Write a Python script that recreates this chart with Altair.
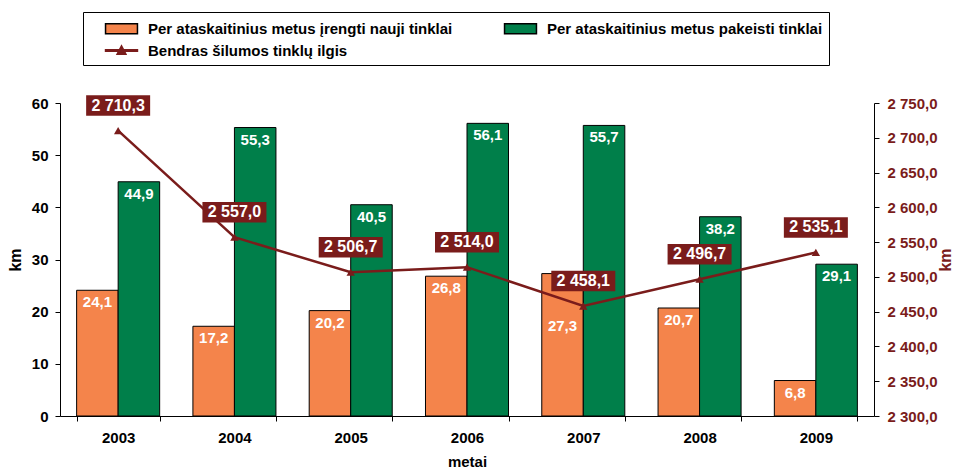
import altair as alt
import pandas as pd

years = ["2003", "2004", "2005", "2006", "2007", "2008", "2009"]
new_km = [24.1, 17.2, 20.2, 26.8, 27.3, 20.7, 6.8]
replaced_km = [44.9, 55.3, 40.5, 56.1, 55.7, 38.2, 29.1]
total_km = [2710.3, 2557.0, 2506.7, 2514.0, 2458.1, 2496.7, 2535.1]
series_names = [
    "Per ataskaitinius metus įrengti nauji tinklai",
    "Per ataskaitinius metus pakeisti tinklai",
    "Bendras šilumos tinklų ilgis",
]
left_ticks = [0, 10, 20, 30, 40, 50, 60]
right_ticks = [2300, 2350, 2400, 2450, 2500, 2550, 2600, 2650, 2700, 2750]
left_domain = [0, 60]
right_domain = [2300, 2750]

ORANGE = "#F4844B"
GREEN = "#007F4A"
DARKRED = "#7A1C1B"
FONT = "Liberation Sans Narrow, Arial Narrow, Liberation Sans, Arial, sans-serif"

bars_df = pd.DataFrame({
    "year": years * 2,
    "series": [series_names[0]] * len(years) + [series_names[1]] * len(years),
    "value": new_km + replaced_km,
    "total": total_km * 2,
})
# line value expressed in left-axis units; a bar label that the line crosses goes below the line
line_in_left = (bars_df["total"] - right_domain[0]) / (right_domain[1] - right_domain[0]) * left_domain[1]
crossed = (line_in_left <= bars_df["value"]) & (line_in_left >= bars_df["value"] - 7)
bars_df["label_pos"] = bars_df["value"].where(~crossed, line_in_left - 1.5)

line_df = pd.DataFrame({"year": years, "series": series_names[2], "total": total_km})

RECT_PATH = "M-1.68,-0.53H1.68V0.53H-1.68Z"
LINE_PATH = "M-1.68,-0.07H1.68V0.07H-1.68Z M-0.47,0.4L0,-0.5L0.47,0.4Z"
BOX_PATH = "M-1,-0.32H1V0.32H-1Z"

x_enc = alt.X(
    "year:N", sort=years,
    scale=alt.Scale(paddingInner=0.286, paddingOuter=0.143),
    axis=alt.Axis(
        title="metai", labelAngle=0, tickBand="extent", tickSize=5,
        labelFont=FONT, labelFontSize=15, labelFontWeight="bold", labelColor="black",
        labelPadding=9, titleFont=FONT, titleFontSize=15, titleFontWeight="bold",
        titlePadding=9, domainColor="black", tickColor="black", grid=False,
    ),
)

legend = alt.Legend(
    title=None, orient="none", legendX=23, legendY=-91, columns=2,
    direction="horizontal", columnPadding=35, rowPadding=3, padding=6,
    strokeColor="black", fillColor="white", labelFont=FONT, labelFontSize=15,
    labelFontWeight="bold", labelColor="black", labelLimit=600, labelOffset=16,
    symbolSize=361, symbolOffset=22, symbolStrokeWidth=1.5, symbolOpacity=1,
)

color_scale = alt.Scale(domain=series_names, range=[ORANGE, GREEN, DARKRED])
shape_scale = alt.Scale(domain=series_names, range=[RECT_PATH, RECT_PATH, LINE_PATH])
stroke_scale = alt.Scale(domain=series_names, range=["black", "black", DARKRED])

y_left = alt.Y(
    "value:Q", scale=alt.Scale(domain=left_domain),
    axis=alt.Axis(
        title="km", values=left_ticks, grid=False, tickSize=5, labelPadding=7,
        labelFont=FONT, labelFontSize=15, labelFontWeight="bold", labelColor="black",
        titleFont=FONT, titleFontSize=16, titleFontWeight="bold", titleColor="black",
        titlePadding=8, domainColor="black", tickColor="black",
    ),
)

bars = alt.Chart(bars_df).mark_bar(stroke="black", strokeWidth=1).encode(
    x=x_enc,
    xOffset=alt.XOffset("series:N", sort=series_names[:2], scale=alt.Scale(paddingInner=0, paddingOuter=0)),
    y=y_left,
    color=alt.Color("series:N", scale=color_scale, legend=legend),
)
bar_text = alt.Chart(bars_df).mark_text(
    baseline="top", dy=5, color="white", font=FONT, fontSize=15, fontWeight="bold"
).encode(
    x=alt.X("year:N", sort=years),
    xOffset=alt.XOffset("series:N", sort=series_names[:2]),
    y=alt.Y("label_pos:Q"),
    text=alt.Text("value:Q", format=".1f"),
)
bar_layer = alt.layer(bars, bar_text)

y_right = alt.Y(
    "total:Q", scale=alt.Scale(domain=right_domain),
    axis=alt.Axis(
        orient="right", title="km", values=right_ticks, format=",.1f", grid=False,
        tickSize=5, labelPadding=8, labelFont=FONT, labelFontSize=15,
        labelFontWeight="bold", labelColor=DARKRED, titleFont=FONT, titleFontSize=16,
        titleFontWeight="bold", titleColor=DARKRED, titleAngle=270, titleBaseline="top",
        titlePadding=0, domainColor="black", tickColor="black",
    ),
)
line_base = alt.Chart(line_df).encode(x=alt.X("year:N", sort=years), y=y_right)
line = line_base.mark_line(color=DARKRED, strokeWidth=2.5)
points = line_base.mark_point(shape="triangle-up", filled=True, size=70, color=DARKRED, opacity=1)
boxes = line_base.mark_point(shape=BOX_PATH, filled=True, size=4096, color=DARKRED, opacity=1, yOffset=-25)
box_text = line_base.mark_text(
    baseline="middle", color="white", font=FONT, fontSize=16, fontWeight="bold", yOffset=-25
).encode(text=alt.Text("total:Q", format=",.1f"))
legend_carrier = line_base.mark_point(filled=True, opacity=0).encode(
    color=alt.Color("series:N", scale=color_scale, legend=legend),
    shape=alt.Shape("series:N", scale=shape_scale, legend=legend),
    stroke=alt.Stroke("series:N", scale=stroke_scale, legend=legend),
)
line_layer = alt.layer(line, points, boxes, box_text, legend_carrier)

chart = alt.layer(bar_layer, line_layer).resolve_scale(y="independent").properties(
    width=814, height=313,
    autosize=alt.AutoSizeParams(type="none"),
    padding={"left": 52, "top": 95, "right": 80, "bottom": 52},
).configure(
    locale={"number": {"decimal": ",", "thousands": " ", "grouping": [3], "currency": ["", ""]}}
).configure_view(stroke=None)

chart.save("out.html", embed_options={"renderer": "svg", "actions": False})
